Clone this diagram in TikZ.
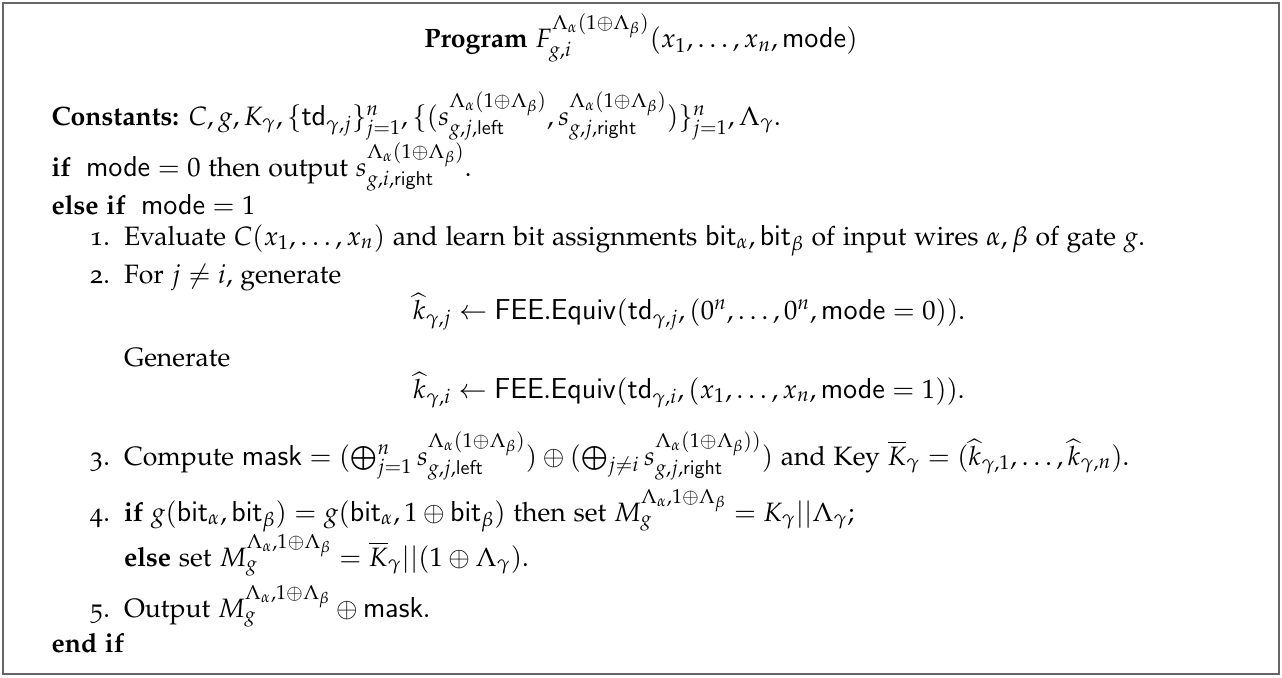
\documentclass[tikz,border=0pt]{standalone}
\usepackage[T1]{fontenc}
\usepackage[osf]{mathpazo}
\usepackage{amsmath}
\newcommand{\LA}{\Lambda_\alpha(1\oplus\Lambda_\beta)}
\newcommand{\LB}{\Lambda_\alpha,1\oplus\Lambda_\beta}
\newcommand{\ItemOne}{Evaluate $C(x_1,\ldots,x_n)$ and learn bit assignments $\mathsf{bit}_\alpha,\mathsf{bit}_\beta$ of input wires $\alpha,\beta$ of gate $g$.}
\newlength\RefW
\begin{document}
\settowidth\RefW{\fontsize{10}{12}\selectfont\ItemOne}%
\pgfmathsetmacro\FS{10*509.5/\RefW}%
\begin{tikzpicture}[x=0.5pt,y=-0.5pt,
  every node/.style={inner sep=0pt, outer sep=0pt},
  frame/.style={draw=black!60, line width=1pt},
  txt/.style={anchor=base west, font=\fontsize{\FS}{\FS}\selectfont},
  ctxt/.style={anchor=base, font=\fontsize{\FS}{\FS}\selectfont}]
\useasboundingbox (0,0) rectangle (1282,677);
\draw[frame] (3,3) rectangle (1279,674);
\node[ctxt] (title) at (641,47.5) {\textbf{Program} $F^{\LA}_{g,i}(x_1,\ldots,x_n,\mathsf{mode})$};
\node[txt] (const) at (51.5,125) {\textbf{Constants:} $C, g, K_\gamma, \{\mathsf{td}_{\gamma,j}\}_{j=1}^n, \{(s^{\LA}_{g,j,\mathsf{left}}, s^{\LA}_{g,j,\mathsf{right}})\}_{j=1}^n, \Lambda_\gamma$.};
\node[txt] (if0) at (51.5,176) {\textbf{if}\ \ $\mathsf{mode}=0$ then output $s^{\LA}_{g,i,\mathsf{right}}$.};
\node[txt] (elif) at (51.5,214) {\textbf{else if}\ \ $\mathsf{mode}=1$};
\node[txt] (n1) at (90,245) {1.};
\node[txt] (s1) at (124,245) {\ItemOne};
\node[txt] (n2) at (90,283) {2.};
\node[txt] (s2) at (124,283) {For $j\neq i$, generate};
\node[txt] (e2a) at (413,319) {$\widehat{k}_{\gamma,j}\leftarrow \mathsf{FEE.Equiv}(\mathsf{td}_{\gamma,j},(0^n,\ldots,0^n,\mathsf{mode}=0))$.};
\node[txt] (s2b) at (124,366) {Generate};
\node[ctxt] (e2b) at (e2a.base |- 0,398) {$\widehat{k}_{\gamma,i}\leftarrow \mathsf{FEE.Equiv}(\mathsf{td}_{\gamma,i},(x_1,\ldots,x_n,\mathsf{mode}=1))$.};
\node[txt] (n3) at (90,465) {3.};
\node[txt] (s3) at (124,465) {Compute $\mathsf{mask}=(\bigoplus_{j=1}^n s^{\LA}_{g,j,\mathsf{left}})\oplus(\bigoplus_{j\neq i} s^{\LA)}_{g,j,\mathsf{right}})$ and Key $\overline{K}_\gamma=(\widehat{k}_{\gamma,1},\ldots,\widehat{k}_{\gamma,n})$.};
\node[txt] (n4) at (90,521) {4.};
\node[txt] (s4) at (124,521) {\textbf{if} $g(\mathsf{bit}_\alpha,\mathsf{bit}_\beta)=g(\mathsf{bit}_\alpha,1\oplus\mathsf{bit}_\beta)$ then set $M_g^{\LB}=K_\gamma||\Lambda_\gamma$;};
\node[txt] (s4b) at (124,566) {\textbf{else} set $M_g^{\LB}=\overline{K}_\gamma||(1\oplus\Lambda_\gamma)$.};
\node[txt] (n5) at (90,617) {5.};
\node[txt] (s5) at (124,617) {Output $M_g^{\LB}\oplus\mathsf{mask}$.};
\node[txt] (endif) at (51.5,652) {\textbf{end if}};
\end{tikzpicture}
\end{document}
